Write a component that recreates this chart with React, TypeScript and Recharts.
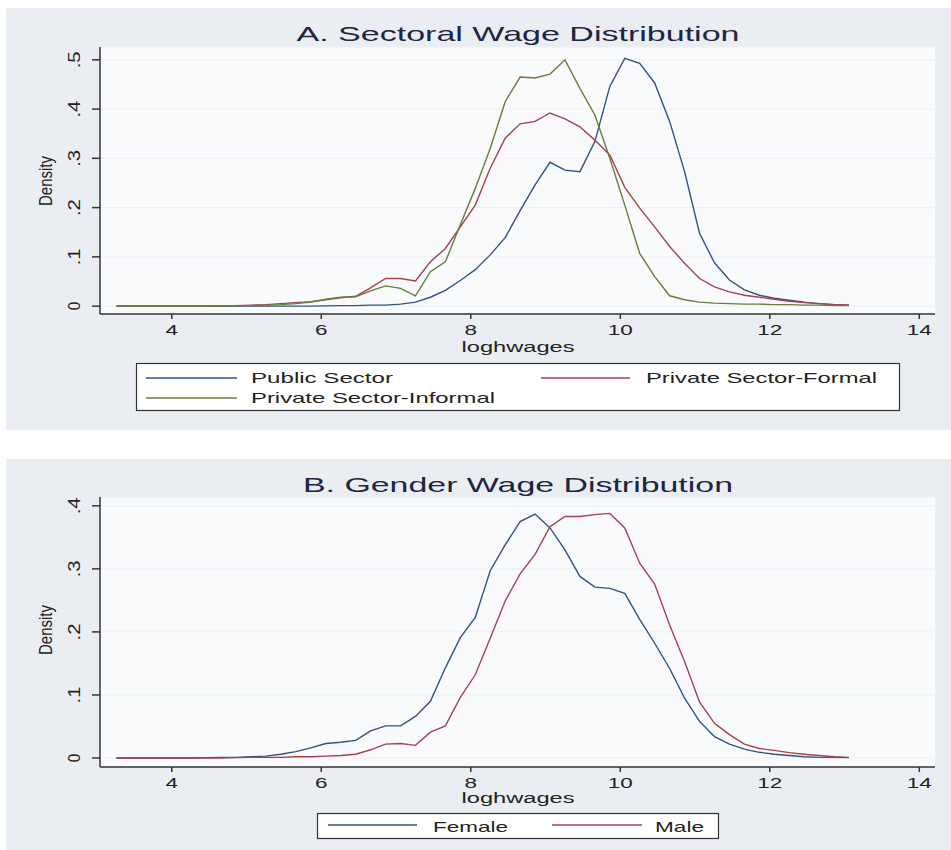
import { LineChart, Line, XAxis, YAxis, CartesianGrid } from "recharts";

// kdensity evaluation points (loghwages)
const xs = [
  3.26, 3.46, 3.66, 3.86, 4.06, 4.26, 4.46, 4.66, 4.86, 5.06,
  5.26, 5.46, 5.66, 5.86, 6.06, 6.26, 6.46, 6.66, 6.86, 7.06,
  7.26, 7.46, 7.66, 7.86, 8.06, 8.26, 8.46, 8.66, 8.86, 9.06,
  9.26, 9.46, 9.66, 9.86, 10.06, 10.26, 10.46, 10.66, 10.86, 11.06,
  11.26, 11.46, 11.66, 11.86, 12.06, 12.26, 12.46, 12.66, 12.86, 13.06,
];

const publicSector = [
  0, 0, 0, 0, 0, 0, 0, 0, 0, 0,
  0, 0, 0, 0, 0.0005, 0.001, 0.001, 0.002, 0.002, 0.004,
  0.008, 0.018, 0.032, 0.052, 0.074, 0.104, 0.139, 0.194, 0.246, 0.292,
  0.276, 0.273, 0.334, 0.446, 0.503, 0.493, 0.453, 0.375, 0.273, 0.148,
  0.088, 0.053, 0.033, 0.022, 0.016, 0.012, 0.008, 0.005, 0.003, 0.002,
];

const privateFormal = [
  0, 0, 0, 0, 0, 0, 0, 0.0005, 0.001, 0.002,
  0.003, 0.005, 0.007, 0.009, 0.013, 0.017, 0.02, 0.037, 0.056, 0.056,
  0.051, 0.09, 0.117, 0.161, 0.205, 0.28, 0.341, 0.37, 0.375, 0.392,
  0.38, 0.364, 0.337, 0.307, 0.241, 0.199, 0.161, 0.121, 0.087, 0.056,
  0.039, 0.029, 0.022, 0.018, 0.014, 0.01, 0.007, 0.005, 0.003, 0.002,
];

const privateInformal = [
  0, 0, 0, 0, 0, 0, 0, 0, 0.0005, 0.001,
  0.002, 0.003, 0.005, 0.008, 0.014, 0.018, 0.019, 0.031, 0.041, 0.036,
  0.021, 0.07, 0.09, 0.165, 0.239, 0.32, 0.415, 0.465, 0.463, 0.471,
  0.5, 0.442, 0.388, 0.3, 0.205, 0.107, 0.06, 0.021, 0.013, 0.008,
  0.006, 0.005, 0.004, 0.004, 0.003, 0.003, 0.002, 0.002, 0.001, 0.001,
];

const female = [
  0, 0, 0, 0, 0, 0, 0.0005, 0.001, 0.001, 0.002,
  0.003, 0.006, 0.01, 0.016, 0.023, 0.025, 0.028, 0.043, 0.051, 0.051,
  0.066, 0.09, 0.143, 0.191, 0.223, 0.297, 0.338, 0.375, 0.387, 0.365,
  0.33, 0.288, 0.271, 0.269, 0.261, 0.22, 0.182, 0.142, 0.095, 0.058,
  0.034, 0.022, 0.014, 0.009, 0.006, 0.004, 0.002, 0.001, 0.001, 0.0005,
];

const male = [
  0, 0, 0, 0, 0, 0, 0, 0, 0.0005, 0.001,
  0.001, 0.001, 0.002, 0.002, 0.003, 0.004, 0.006, 0.013, 0.022, 0.023,
  0.02, 0.041, 0.051, 0.096, 0.132, 0.19, 0.249, 0.292, 0.323, 0.367,
  0.383, 0.383, 0.386, 0.388, 0.365, 0.309, 0.276, 0.211, 0.153, 0.089,
  0.055, 0.037, 0.022, 0.015, 0.012, 0.0085, 0.006, 0.004, 0.002, 0.001,
];

const xTicks = [4, 6, 8, 10, 12, 14];
const yTicksA = [0, 0.1, 0.2, 0.3, 0.4, 0.5];
const yTicksB = [0, 0.1, 0.2, 0.3, 0.4];

const BLUE = "#2f5580";
const RED = "#a8404e";
const GREEN = "#637f3a";
const AXIS = "#333";
const FONT = "'Liberation Sans', Arial, sans-serif";

const sectorData = xs.map((x, i) => ({
  x,
  pub: publicSector[i],
  formal: privateFormal[i],
  informal: privateInformal[i],
}));

const genderData = xs.map((x, i) => ({ x, female: female[i], male: male[i] }));

function fmtY(v: number) {
  if (v === 0) return "0";
  return String(Number(v.toFixed(1))).replace(/^0/, "");
}

function XTick(props: any) {
  const { x, y, payload } = props;
  const s = String(payload.value);
  return (
    <text
      x={x}
      y={y + 14}
      textAnchor="middle"
      fontSize={15}
      fill="#222"
      fontFamily={FONT}
      textLength={s.length * 12.5}
      lengthAdjust="spacingAndGlyphs"
    >
      {s}
    </text>
  );
}

function YTick(props: any) {
  const { x, y, payload } = props;
  const s = fmtY(payload.value);
  return (
    <text
      x={x}
      y={y}
      transform={`rotate(-90 ${x} ${y})`}
      textAnchor="middle"
      fontSize={17}
      fill="#222"
      fontFamily={FONT}
      textLength={s.length * 8.5}
      lengthAdjust="spacingAndGlyphs"
    >
      {s}
    </text>
  );
}

const axisLine = { stroke: AXIS, strokeWidth: 1.5 };

function Stretched({ x, y, len, size, children, fill = "#222", anchor = "start" }: any) {
  return (
    <text
      x={x}
      y={y}
      fontSize={size}
      fill={fill}
      fontFamily={FONT}
      textAnchor={anchor}
      textLength={len}
      lengthAdjust="spacingAndGlyphs"
    >
      {children}
    </text>
  );
}

function DensityLabel({ cx, cy }: { cx: number; cy: number }) {
  return (
    <text
      x={cx}
      y={cy}
      transform={`rotate(-90 ${cx} ${cy})`}
      textAnchor="middle"
      fontSize={19}
      fill="#222"
      fontFamily={FONT}
      textLength={50}
      lengthAdjust="spacingAndGlyphs"
    >
      Density
    </text>
  );
}

export default function App() {
  return (
    <div
      style={{
        position: "absolute",
        left: 0,
        top: 0,
        width: 951,
        height: 850,
        background: "#fff",
        overflow: "hidden",
      }}
    >
      <div style={{ position: "absolute", left: 6, top: 8, width: 945, height: 422, background: "#eaeef2" }} />
      <div style={{ position: "absolute", left: 6, top: 459, width: 945, height: 391, background: "#eaeef2" }} />

      <div style={{ position: "absolute", left: 0, top: 0 }}>
        <LineChart width={951} height={440} data={sectorData} margin={{ top: 47, right: 16, bottom: 86, left: 40 }}>
          <CartesianGrid vertical={false} fill="#f9fafb" stroke="#edf0f3" />
          <XAxis
            dataKey="x"
            type="number"
            domain={[3.04, 14.21]}
            ticks={xTicks}
            allowDataOverflow
            height={40}
            tickSize={5}
            tickMargin={2}
            axisLine={axisLine}
            tickLine={axisLine}
            tick={<XTick />}
          />
          <YAxis
            type="number"
            domain={[-0.016, 0.526]}
            ticks={yTicksA}
            allowDataOverflow
            width={60}
            tickSize={8}
            tickMargin={12}
            axisLine={axisLine}
            tickLine={axisLine}
            tick={<YTick />}
          />
          <Line dataKey="pub" stroke={BLUE} strokeWidth={1.4} dot={false} isAnimationActive={false} />
          <Line dataKey="formal" stroke={RED} strokeWidth={1.4} dot={false} isAnimationActive={false} />
          <Line dataKey="informal" stroke={GREEN} strokeWidth={1.4} dot={false} isAnimationActive={false} />
        </LineChart>
      </div>

      <div style={{ position: "absolute", left: 0, top: 450 }}>
        <LineChart width={951} height={400} data={genderData} margin={{ top: 47, right: 16, bottom: 43, left: 40 }}>
          <CartesianGrid vertical={false} fill="#f9fafb" stroke="#edf0f3" />
          <XAxis
            dataKey="x"
            type="number"
            domain={[3.04, 14.21]}
            ticks={xTicks}
            allowDataOverflow
            height={40}
            tickSize={5}
            tickMargin={2}
            axisLine={axisLine}
            tickLine={axisLine}
            tick={<XTick />}
          />
          <YAxis
            type="number"
            domain={[-0.0143, 0.414]}
            ticks={yTicksB}
            allowDataOverflow
            width={60}
            tickSize={8}
            tickMargin={12}
            axisLine={axisLine}
            tickLine={axisLine}
            tick={<YTick />}
          />
          <Line dataKey="female" stroke={BLUE} strokeWidth={1.4} dot={false} isAnimationActive={false} />
          <Line dataKey="male" stroke={RED} strokeWidth={1.4} dot={false} isAnimationActive={false} />
        </LineChart>
      </div>

      <svg
        width={951}
        height={850}
        style={{ position: "absolute", left: 0, top: 0, pointerEvents: "none" }}
      >
        {/* panel A */}
        <Stretched x={518} y={41} len={443} size={21} fill="#1c2541" anchor="middle">
          A. Sectoral Wage Distribution
        </Stretched>
        <DensityLabel cx={52} cy={181} />
        <Stretched x={518} y={352} len={113} size={14} anchor="middle">
          loghwages
        </Stretched>
        <rect x={136.5} y={363.5} width={763} height={47} fill="#fff" stroke={AXIS} strokeWidth={1.2} />
        <line x1={146} y1={378} x2={237} y2={378} stroke={BLUE} strokeWidth={1.4} />
        <Stretched x={251} y={383} len={142} size={15}>Public Sector</Stretched>
        <line x1={541} y1={378} x2={630} y2={378} stroke={RED} strokeWidth={1.4} />
        <Stretched x={646} y={383} len={231} size={15}>Private Sector-Formal</Stretched>
        <line x1={146} y1={398} x2={237} y2={398} stroke={GREEN} strokeWidth={1.4} />
        <Stretched x={251} y={403} len={244} size={15}>Private Sector-Informal</Stretched>

        {/* panel B */}
        <Stretched x={518} y={492} len={430} size={21} fill="#1c2541" anchor="middle">
          B. Gender Wage Distribution
        </Stretched>
        <DensityLabel cx={52} cy={630} />
        <Stretched x={518} y={803} len={113} size={14} anchor="middle">
          loghwages
        </Stretched>
        <rect x={317.5} y={813.5} width={401} height={25} fill="#fff" stroke={AXIS} strokeWidth={1.2} />
        <line x1={328} y1={825} x2={417} y2={825} stroke={BLUE} strokeWidth={1.4} />
        <Stretched x={433} y={832} len={75} size={15}>Female</Stretched>
        <line x1={552} y1={825} x2={642} y2={825} stroke={RED} strokeWidth={1.4} />
        <Stretched x={655} y={832} len={49} size={15}>Male</Stretched>
      </svg>
    </div>
  );
}
